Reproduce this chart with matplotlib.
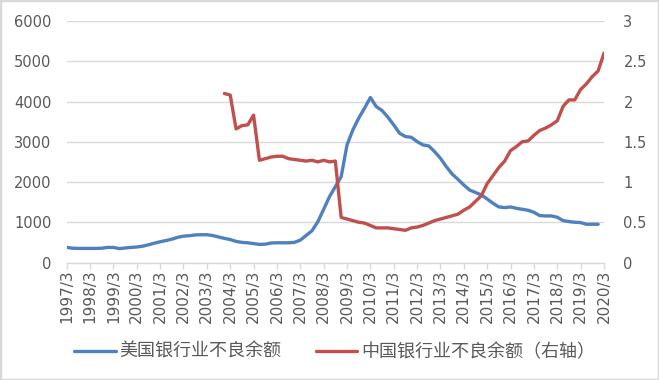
import matplotlib
matplotlib.use("Agg")
import matplotlib.pyplot as plt
import numpy as np
from matplotlib.patches import Rectangle

plt.rcParams['font.family'] = ['DejaVu Sans', 'Noto Sans CJK SC']

# Quarterly categories 1997/3 ... 2020/3
years = list(range(1997, 2021))
tick_labels = [f"{y}/3" for y in years]

us_npl = [375, 355, 350, 350, 350, 350, 355, 375, 375, 345,
          360, 375, 385, 405, 440, 480, 515, 545, 580, 625,
          655, 665, 685, 690, 690, 670, 635, 600, 570, 525,
          500, 490, 470, 450, 455, 485, 490, 490, 490, 500,
          556, 672, 788, 1012, 1320, 1635, 1884, 2133, 2920, 3295,
          3585, 3834, 4100, 3875, 3776, 3610, 3419, 3212, 3129, 3112,
          3004, 2921, 2896, 2755, 2589, 2382, 2199, 2066, 1925, 1801,
          1740, 1678, 1578, 1471, 1380, 1364, 1380, 1347, 1322, 1298,
          1248, 1165, 1157, 1157, 1124, 1041, 1017, 1000, 992, 950,
          950, 950]

cn_start = 27  # first quarter index of the China series (2003/12)
cn_npl = [2.10, 2.08, 1.66, 1.70, 1.71, 1.83, 1.27, 1.29, 1.31, 1.32,
          1.32, 1.29, 1.28, 1.27, 1.26, 1.27, 1.25, 1.27, 1.25, 1.26,
          0.56, 0.54, 0.52, 0.50, 0.49, 0.46, 0.43, 0.43, 0.43, 0.42,
          0.41, 0.40, 0.43, 0.44, 0.46, 0.49, 0.52, 0.54, 0.56, 0.58,
          0.60, 0.65, 0.69, 0.76, 0.83, 0.98, 1.08, 1.18, 1.26, 1.39,
          1.44, 1.50, 1.51, 1.58, 1.64, 1.67, 1.71, 1.76, 1.94, 2.02,
          2.02, 2.15, 2.22, 2.31, 2.38, 2.60]

label_us = "美国银行业不良余额"
label_cn = "中国银行业不良余额（右轴）"

grey_text = "#595959"
grid_c = "#d9d9d9"
blue = "#4F81BD"
red = "#C0504D"

fig = plt.figure(figsize=(6.59, 3.80), dpi=100)
fig.patch.set_facecolor("white")
fig.patches.append(Rectangle((0, 0), 1, 1, transform=fig.transFigure,
                             fill=False, edgecolor="#d9d9d9", linewidth=2.5))

ax = fig.add_axes([0.1012, 0.3092, 0.8153, 0.6355])
ax2 = ax.twinx()

x_us = np.arange(len(us_npl))
x_cn = np.arange(cn_start, cn_start + len(cn_npl))

l1, = ax.plot(x_us, us_npl, color=blue, lw=2.4, solid_joinstyle="round",
              solid_capstyle="round", label=label_us)
l2, = ax2.plot(x_cn, cn_npl, color=red, lw=2.4, solid_joinstyle="round",
               solid_capstyle="round", label=label_cn)

n_total = 4 * (len(years) - 1)
ax.set_xlim(0, n_total)
ax.set_ylim(0, 6000)
ax2.set_ylim(0, 3)
ax.set_yticks(np.arange(0, 6001, 1000))
ax2.set_yticks(np.arange(0, 3.01, 0.5))
ax2.set_yticklabels(["0", "0.5", "1", "1.5", "2", "2.5", "3"])

ax.set_xticks(np.arange(0, n_total + 1, 4))
ax.set_xticklabels(tick_labels, rotation=90)

ax.grid(axis="y", color=grid_c, lw=1)
ax.set_axisbelow(True)
for a in (ax, ax2):
    for s in ("top", "right", "left"):
        a.spines[s].set_visible(False)
    a.spines["bottom"].set_color(grid_c)
    a.spines["bottom"].set_linewidth(1)
ax2.spines["bottom"].set_visible(False)

ax.tick_params(axis="x", colors=grid_c, length=4, width=1, pad=1,
               labelcolor=grey_text, labelsize=11)
ax.tick_params(axis="y", length=0, pad=11, labelcolor=grey_text, labelsize=10.5)
ax2.tick_params(axis="y", length=0, pad=14, labelcolor=grey_text, labelsize=10.5)

fig.legend(handles=[l1, l2], loc="center", bbox_to_anchor=(0.508, 0.074),
           ncol=2, frameon=False, fontsize=13, labelcolor=grey_text,
           handlelength=2.3, handletextpad=0.2, columnspacing=1.9)

fig.savefig("out.png", dpi=100, facecolor="white")
